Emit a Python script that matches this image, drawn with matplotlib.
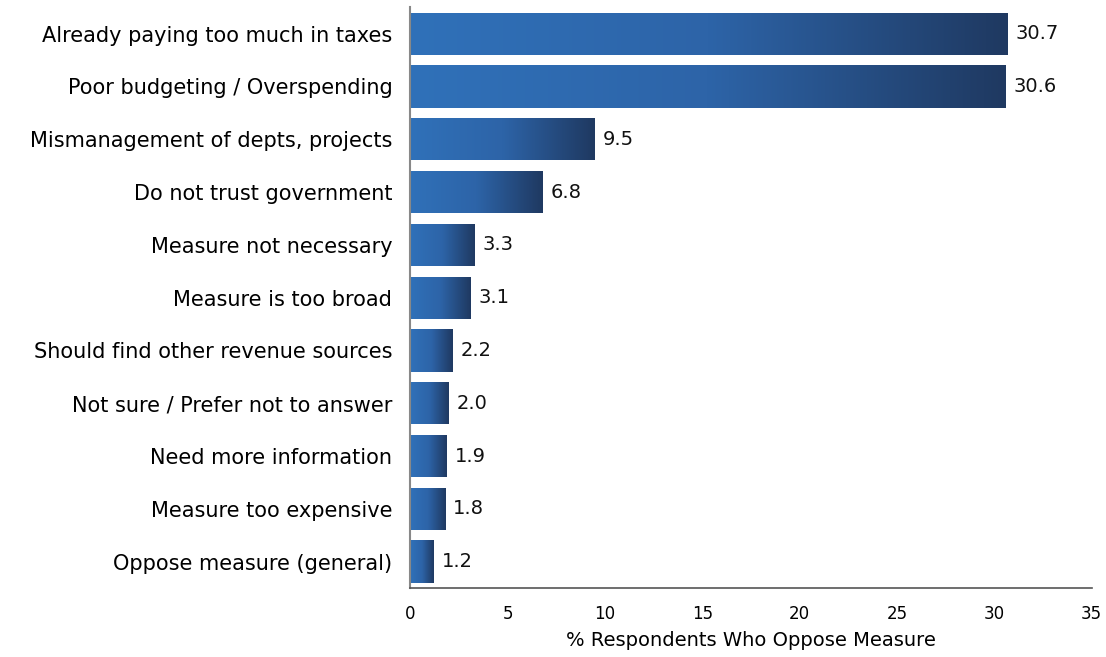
import numpy as np
import matplotlib.pyplot as plt
from matplotlib.colors import LinearSegmentedColormap

categories = [
    "Already paying too much in taxes",
    "Poor budgeting / Overspending",
    "Mismanagement of depts, projects",
    "Do not trust government",
    "Measure not necessary",
    "Measure is too broad",
    "Should find other revenue sources",
    "Not sure / Prefer not to answer",
    "Need more information",
    "Measure too expensive",
    "Oppose measure (general)",
]
values = [30.7, 30.6, 9.5, 6.8, 3.3, 3.1, 2.2, 2.0, 1.9, 1.8, 1.2]
xticks = [0, 5, 10, 15, 20, 25, 30, 35]
xlabel = "% Respondents Who Oppose Measure"

plt.rcParams['font.family'] = ['DejaVu Sans']

fig = plt.figure(figsize=(11.06, 6.57), dpi=100)
ax = fig.add_axes([0.371, 0.105, 0.616, 0.884])

cmap = LinearSegmentedColormap.from_list("bar_grad", ["#3071B9", "#2D64A8", "#1F3961"])
grad = np.linspace(0, 1, 256).reshape(1, -1)

y = np.arange(len(categories))
bars = ax.barh(y, values, height=0.8, color="none", edgecolor="none")
for bar in bars:
    x0, yb = bar.get_x(), bar.get_y()
    w, h = bar.get_width(), bar.get_height()
    im = ax.imshow(grad, cmap=cmap, aspect="auto", interpolation="bicubic",
                   extent=[x0, x0 + w, yb + h, yb], zorder=2)
    im.set_clip_path(bar)

for yi, v in zip(y, values):
    ax.text(v + 0.4, yi, f"{v:.1f}", va="center", ha="left", fontsize=14, color="#111111")

ax.set_xlim(0, 35)
ax.set_ylim(len(categories) - 0.5, -0.5)
ax.set_yticks(y)
ax.set_yticklabels(categories, fontsize=15)
ax.set_xticks(xticks)
ax.set_xticklabels([str(t) for t in xticks], fontsize=12)
ax.tick_params(axis="x", length=0, pad=12)
ax.tick_params(axis="y", length=0, pad=13)
ax.set_xlabel(xlabel, fontsize=14, labelpad=6)

for s in ["top", "right"]:
    ax.spines[s].set_visible(False)
ax.spines["left"].set_color("#888888")
ax.spines["left"].set_linewidth(1.5)
ax.spines["bottom"].set_color("#555555")
ax.spines["bottom"].set_linewidth(1.2)

fig.savefig("out.png", dpi=100)
